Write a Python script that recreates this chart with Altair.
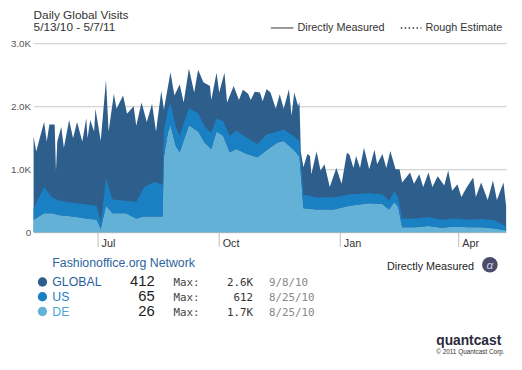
import altair as alt
import pandas as pd

START = pd.Timestamp("2010-05-13")

# ---- GLOBAL daily visits (day offset from 5/13/10, visits) ----
global_days = [0, 2, 6, 8, 10, 12, 16, 17, 18, 21, 23, 27, 30, 33, 37, 40, 41, 43, 46, 47,
               51, 55, 57, 61, 63, 68, 71, 76, 78, 82, 86, 90, 93, 97, 99, 104, 107, 111, 114, 118,
               122, 125, 129, 134, 135, 139, 141, 145, 147, 152, 156, 159, 163, 165, 168, 172, 174, 177, 180, 184,
               187, 190, 194, 196, 198, 201, 202, 203, 205, 208, 210, 211, 215, 218, 221, 225, 230, 234, 238, 240,
               243, 245, 248, 251, 255, 259, 261, 265, 268, 271, 275, 278, 280, 286, 289, 293, 296, 300, 303, 307,
               312, 315, 318, 322, 325, 329, 334, 336, 340, 345, 349, 352, 357, 359]
global_visits = [1520, 1280, 1600, 1750, 1440, 1710, 1710, 970, 1440, 1670, 1340, 1780, 1490, 1750, 1440, 1810, 1490, 1780, 1600, 1960,
                 1450, 2420, 1600, 2200, 1960, 2170, 1880, 2000, 1690, 2060, 1750, 2040, 1600, 2240, 1950, 2540, 2170, 2350, 2060, 2600,
                 2220, 2580, 2380, 2320, 2100, 2530, 2220, 2530, 2060, 2320, 2100, 2260, 2200, 2100, 2230, 2220, 2080, 2270, 2220, 1960,
                 2190, 1960, 2270, 1850, 2220, 2000, 2070, 1280, 1030, 1240, 1210, 920, 1280, 980, 1080, 720, 1020, 770, 1260, 1230,
                 1020, 1210, 1020, 1340, 1000, 1310, 1080, 1240, 1020, 1290, 1000, 1000, 790, 950, 770, 920, 720, 950, 720, 890,
                 740, 980, 660, 760, 560, 710, 870, 560, 790, 510, 820, 510, 790, 412]

# ---- DE and US (US stacked on top of DE) ----
de_days = [0, 8, 14, 20, 30, 40, 48, 51, 55, 60, 70, 78, 84, 92, 98,
           99, 102, 104, 108, 111, 118, 125, 130, 135, 139, 144, 149, 154, 162, 170, 177, 185, 190, 198, 202,
           205, 215, 228, 240, 255, 265, 270, 274, 277,
           280, 290, 300, 310, 320, 330, 340, 350, 359]
de_visits = [200, 300, 300, 270, 250, 220, 200, 50, 420, 300, 300, 220, 250, 250, 250,
             1200, 1580, 1700, 1370, 1270, 1700, 1600, 1420, 1320, 1600, 1530, 1270, 1320, 1240, 1190, 1300, 1420, 1450, 1300, 1200,
             380, 360, 360, 420, 460, 450, 360, 480, 400,
             80, 80, 100, 70, 90, 80, 80, 60, 26]
us_visits = [180, 420, 250, 230, 220, 220, 220, 100, 430, 220, 200, 260, 470, 550, 500,
             400, 370, 350, 310, 260, 270, 290, 260, 260, 210, 230, 260, 290, 260, 210, 250, 180, 180, 220, 250,
             220, 190, 190, 180, 160, 150, 140, 170, 150,
             140, 140, 140, 130, 130, 120, 130, 130, 65]

tick_dates = ["2010-07-01", "2010-10-01", "2011-01-01", "2011-04-01"]
y_ticks = [0, 1000, 2000, 3000]

legend_names = ["GLOBAL", "US", "DE"]
legend_latest = ["412", "65", "26"]
legend_max = ["2.6K", "612", "1.7K"]
legend_max_date = ["9/8/10", "8/25/10", "8/25/10"]

title_lines = ["Daily Global Visits", "5/13/10 - 5/7/11"]
network_name = "Fashionoffice.org Network"

DARK = "#2e5e8b"
MED = "#1a80c4"
LIGHT = "#64b1d7"
SANS = "Liberation Sans"
MONO = "DejaVu Sans Mono"

g_df = pd.DataFrame({"date": START + pd.to_timedelta(global_days, unit="D"), "visits": global_visits})
d_df = pd.DataFrame({"date": START + pd.to_timedelta(de_days, unit="D"), "de": de_visits, "us": us_visits})
d_df["top"] = d_df["de"] + d_df["us"]
t_df = pd.DataFrame({"date": pd.to_datetime(tick_dates)})

xscale = alt.Scale(domain=[alt.DateTime(year=2010, month=5, date=13), alt.DateTime(year=2011, month=5, date=7)])
yscale = alt.Scale(domain=[0, 3000], nice=False)
xaxis = alt.Axis(values=[alt.DateTime(year=int(s[:4]), month=int(s[5:7]), date=int(s[8:])) for s in tick_dates],
                 format="%b", labelAlign="left", labelBaseline="top", labelOffset=3, labelPadding=5,
                 ticks=False, tickSize=0, domain=False, grid=False, labelFontSize=11, labelColor="#333",
                 labelFont=SANS, title=None)
yaxis = alt.Axis(values=y_ticks, labelExpr="datum.value == 0 ? '0' : format(datum.value/1000, '.1f') + 'K'",
                 grid=True, gridColor="#c8c8c8", domain=False, ticks=False, tickSize=0, labelPadding=3,
                 labelFontSize=10, labelColor="#555", labelFont=SANS, title=None)

X = alt.X("date:T", scale=xscale, axis=xaxis)

glob = alt.Chart(g_df).mark_area(color=DARK, interpolate="linear").encode(
    x=X, y=alt.Y("visits:Q", scale=yscale, axis=yaxis))
de_area = alt.Chart(d_df).mark_area(color=LIGHT, interpolate="linear").encode(
    x=X, y=alt.Y("de:Q", scale=yscale, axis=yaxis))
us_area = alt.Chart(d_df).mark_area(color=MED, interpolate="linear").encode(
    x=X, y=alt.Y("top:Q", scale=yscale, axis=yaxis), y2="de:Q")
tick_rules = alt.Chart(t_df).mark_rule(color="#bbbbbb", strokeWidth=1).encode(
    x=X, y=alt.value(192), y2=alt.value(207))

OX, OY = 34, 41  # page position of the plot origin
one = pd.DataFrame({"a": [0]})


def txt(s, px, py, size=11, color="#333", font=SANS, align="left", weight="normal", style="normal"):
    return alt.Chart(one).mark_text(fontSize=size, color=color, font=font, align=align,
                                    baseline="alphabetic", fontWeight=weight, fontStyle=style).encode(
        x=alt.value(px - OX), y=alt.value(py - OY), text=alt.value(s))


layers = [glob, de_area, us_area, tick_rules]

# titles
layers.append(txt(title_lines[0], 34, 16, size=12, color="#333"))
layers.append(txt(title_lines[1], 34, 29, size=12, color="#333"))

# top legend
layers.append(alt.Chart(one).mark_rule(color="#333", strokeWidth=1).encode(
    x=alt.value(275 - OX), x2=alt.value(298 - OX), y=alt.value(25.5 - OY)))
layers.append(txt("Directly Measured", 302, 29, size=11, color="#333"))
layers.append(alt.Chart(one).mark_rule(color="#333", strokeWidth=1.5, strokeDash=[1.5, 2.5]).encode(
    x=alt.value(407 - OX), x2=alt.value(428 - OX), y=alt.value(25.5 - OY)))
layers.append(txt("Rough Estimate", 432, 29, size=11, color="#333"))

# bottom legend
layers.append(txt(network_name, 53, 268, size=12.5, color="#2b65a0"))
layers.append(txt("Directly Measured", 393, 271, size=11, color="#222"))
layers.append(alt.Chart(one).mark_circle(size=250, color="#4b4b6b", opacity=1).encode(
    x=alt.value(497.5 - OX), y=alt.value(266 - OY)))
layers.append(txt("α", 497.5, 270, size=12, color="#c8c8dc", align="center", style="italic"))

row_y = [288, 303, 318]
dot_colors = [DARK, MED, LIGHT]
name_colors = ["#2a5f9e", "#1f7bc4", "#4ea6d8"]
for i, name in enumerate(legend_names):
    yb = row_y[i]
    layers.append(alt.Chart(one).mark_circle(size=90, color=dot_colors[i], opacity=1).encode(
        x=alt.value(43 - OX), y=alt.value(yb - 4.5 - OY)))
    layers.append(txt(name, 53, yb, size=12.5, color=name_colors[i]))
    layers.append(txt(legend_latest[i], 157, yb, size=15, color="#222", align="right"))
    layers.append(txt("Max:", 176, yb, size=11, color="#444", font=MONO))
    layers.append(txt(legend_max[i], 257, yb, size=11, color="#333", font=MONO, align="right"))
    layers.append(txt(legend_max_date[i], 273, yb, size=11, color="#888", font=MONO))

# footer
layers.append(txt("quantcast", 443, 348, size=14, color="#2b2b3b", weight="bold"))
layers.append(txt("© 2011 Quantcast Corp.", 443, 357, size=6.5, color="#333"))

chart = alt.layer(*layers).properties(
    width=480, height=192,
    autosize=alt.AutoSizeParams(type="none"),
    padding={"left": 26, "top": 33, "right": 8, "bottom": 128},
    background="white",
).configure_view(stroke=None)

chart.save("out.html", embed_options={"renderer": "svg", "actions": False})
